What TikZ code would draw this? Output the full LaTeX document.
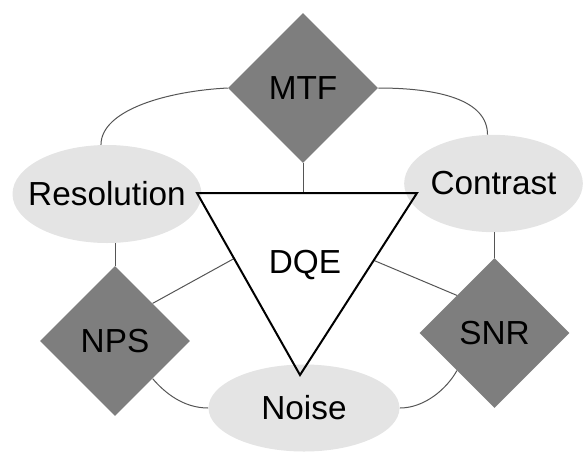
\documentclass[tikz,border=0pt]{standalone}
\usepackage{fontspec}
\setmainfont{Liberation Sans}
\usetikzlibrary{shapes.geometric,calc}

\definecolor{dmdgray}{RGB}{126,126,126}
\definecolor{ellgray}{RGB}{228,228,228}
\definecolor{lingray}{RGB}{85,85,85}
\newcommand{\ctrtext}[1]{\makebox[0pt]{#1}}

\tikzset{
  dmd/.style={diamond, aspect=1, fill=dmdgray, draw=none, inner sep=0pt,
    minimum width=112.5pt, minimum height=112.5pt},
  ell/.style={ellipse, fill=ellgray, draw=none, inner sep=0pt},
  lnk/.style={draw=lingray, line width=0.75pt},
  tri/.style={draw=black, line width=1.5pt, line join=miter}
}

\begin{document}
\begin{tikzpicture}[x=0.75pt,y=0.75pt,yscale=-1,xscale=1,font=\fontsize{25}{30}\selectfont]
\useasboundingbox (0,0) rectangle (584,461);

% ellipses
\node[ell, minimum width=141.75pt, minimum height=73.5pt] (res) at (107,194) {\ctrtext{Resolution}};
\node[ell, minimum width=134pt, minimum height=73pt] (con) at (493.5,183.5) {\ctrtext{Contrast}};
\node[ell, minimum width=143.25pt, minimum height=65.25pt] (noise) at (304,408) {\ctrtext{Noise}};

% diamonds
\node[dmd] (mtf) at (303,88) {MTF};
\node[dmd] (nps) at (115,341) {NPS};
\node[dmd] (snr) at (494.5,333) {SNR};

% triangle
\coordinate (tl) at (197,193);
\coordinate (tr) at (417,193);
\coordinate (tb) at (300,375);
\coordinate (le) at ($(tl)!0.36!(tb)$);
\coordinate (re) at ($(tr)!0.37!(tb)$);

% links
\draw[lnk] (mtf.west) .. controls +(-60,3) and +(0,-35) .. (res.97);
\draw[lnk] (mtf.east) .. controls +(60,0) and +(0,-35) .. (con.97);
\draw[lnk] (mtf.south) -- (mtf.south |- tl);
\draw[lnk] (res.south -| nps.north) -- (nps.north);
\draw[lnk] (con.south -| snr.north) -- (snr.north);
\draw[lnk] (nps.north east) -- (le);
\draw[lnk] (snr.north west) -- (re);
\draw[lnk] (nps.south east) .. controls +(12,14) and +(-25,0) .. (noise.west);
\draw[lnk] (snr.south west) .. controls +(-10,18) and +(25,0) .. (noise.east);

\draw[tri] (tl) -- (tr) -- (tb) -- cycle;
\node (dqe) at (305,265) {DQE};

\end{tikzpicture}
\end{document}
